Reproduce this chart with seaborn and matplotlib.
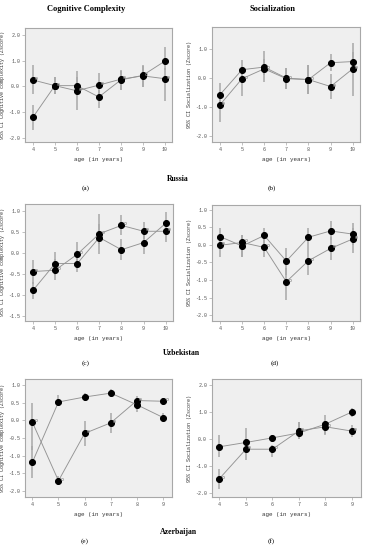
import matplotlib
matplotlib.use("Agg")
from matplotlib import pyplot as plt
from matplotlib.transforms import offset_copy
import seaborn as sns
import pandas as pd

# ages on the x axis
ages_long = [4, 5, 6, 7, 8, 9, 10]
ages_az = [4, 5, 6, 7, 8, 9]

# (a) Russia - cognitive complexity
cc_ru_a = [-1.20, 0.03, 0.03, -0.41, 0.25, 0.43, 0.98]
cc_ru_a_lo = [-1.68, -0.29, -0.25, -0.83, -0.12, -0.03, 0.65]
cc_ru_a_hi = [-0.73, 0.36, 0.35, -0.12, 0.65, 0.85, 1.52]
cc_ru_b = [0.25, 0.03, -0.17, 0.05, 0.28, 0.41, 0.30]
cc_ru_b_lo = [-0.29, -0.29, -0.90, -0.32, -0.12, -0.03, -0.58]
cc_ru_b_hi = [0.82, 0.36, 0.59, 0.52, 0.60, 0.80, 0.72]

# (b) Russia - socialization
so_ru_a = [-0.57, 0.29, 0.38, 0.00, -0.05, 0.53, 0.57]
so_ru_a_lo = [-0.83, -0.14, 0.12, -0.37, -0.54, 0.26, 0.26]
so_ru_a_hi = [-0.17, 0.63, 0.65, 0.36, 0.44, 0.84, 1.22]
so_ru_b = [-0.92, -0.02, 0.32, -0.02, -0.05, -0.29, 0.32]
so_ru_b_lo = [-1.52, -0.60, -0.12, -0.37, -0.54, -0.71, -0.60]
so_ru_b_hi = [-0.54, 0.26, 0.93, 0.36, 0.44, 0.15, 0.90]

# (c) Uzbekistan - cognitive complexity
cc_uz_a = [-0.89, -0.25, -0.25, 0.37, 0.08, 0.25, 0.71]
cc_uz_a_lo = [-1.09, -0.53, -0.45, -0.02, -0.17, -0.02, 0.62]
cc_uz_a_hi = [-0.69, 0.02, -0.10, 0.70, 0.34, 0.46, 0.98]
cc_uz_b = [-0.44, -0.41, -0.03, 0.46, 0.66, 0.52, 0.52]
cc_uz_b_lo = [-0.73, -0.65, -0.21, 0.22, 0.42, 0.34, 0.26]
cc_uz_b_hi = [-0.17, -0.13, 0.26, 0.94, 0.90, 0.74, 0.70]

# (d) Uzbekistan - socialization
so_uz_a = [0.24, -0.03, 0.27, -0.46, 0.22, 0.40, 0.31]
so_uz_a_lo = [0.10, -0.33, 0.00, -0.86, -0.05, 0.14, 0.00]
so_uz_a_hi = [0.48, 0.29, 0.48, -0.10, 0.48, 0.67, 0.62]
so_uz_b = [-0.01, 0.07, -0.07, -1.05, -0.45, -0.10, 0.17]
so_uz_b_lo = [-0.33, -0.33, -0.33, -1.57, -0.86, -0.43, -0.24]
so_uz_b_hi = [0.24, 0.29, 0.19, -0.67, -0.05, 0.24, 0.48]

# (e) Azerbaijan - cognitive complexity
cc_az_a = [-1.19, 0.52, 0.66, 0.77, 0.44, 0.08]
cc_az_a_lo = [-1.63, 0.40, 0.54, 0.66, 0.25, -0.03]
cc_az_a_hi = [-0.74, 0.73, 0.77, 0.89, 0.58, 0.21]
cc_az_b = [-0.05, -1.71, -0.37, -0.07, 0.56, 0.54]
cc_az_b_lo = [-0.83, -1.84, -0.74, -0.36, 0.44, 0.44]
cc_az_b_hi = [0.49, -1.58, -0.03, 0.21, 0.68, 0.63]

# (f) Azerbaijan - socialization
so_az_a = [-0.29, -0.13, 0.04, 0.22, 0.55, 1.00]
so_az_a_lo = [-0.66, -0.41, -0.10, 0.00, 0.20, 0.82]
so_az_a_hi = [0.14, 0.39, 0.14, 0.64, 0.88, 1.13]
so_az_b = [-1.47, -0.38, -0.38, 0.30, 0.45, 0.29]
so_az_b_lo = [-1.84, -0.79, -0.66, 0.00, 0.14, 0.08]
so_az_b_hi = [-1.10, -0.17, -0.23, 0.64, 0.64, 0.51]

cc_label = "95% CI Cognitive complexity (Zscore)"
so_label = "95% CI Socialization (Zscore)"

sns.set_theme(style="white")
plt.rcParams["font.family"] = ["Liberation Mono", "DejaVu Sans Mono"]
plt.rcParams["axes.unicode_minus"] = False

LINE = "#939393"
BAR = "#a8a8a8"
FRAME = "#a8a8a8"
TXT = "#555555"

W, H = 365, 550
fig = plt.figure(figsize=(3.65, 5.5), dpi=100)


def make_ax(left, top, right, bottom):
    return fig.add_axes([left / W, 1 - bottom / H, (right - left) / W, (bottom - top) / H])


def panel(ax, ages, a, a_lo, a_hi, b, b_lo, b_hi, ylabel, ylim, yticks, xlim):
    df = pd.DataFrame({
        "age": ages + ages,
        "z": a + b,
        "lo": a_lo + b_lo,
        "hi": a_hi + b_hi,
        "group": ["A"] * len(ages) + ["B"] * len(ages),
    })
    ax.vlines(df["age"], df["lo"], df["hi"], color=BAR, lw=1.1, zorder=2)
    sns.lineplot(data=df, x="age", y="z", hue="group", palette=[LINE, LINE],
                 marker="o", markersize=4.3, markerfacecolor="black",
                 markeredgecolor="black", lw=0.65, legend=False,
                 errorbar=None, sort=False, ax=ax, zorder=3)
    # small SPSS-style tags beside the second group's points
    tag = offset_copy(ax.transData, fig=fig, x=3.5, y=2.0, units="dots")
    ax.plot(df.loc[df.group == "B", "age"], df.loc[df.group == "B", "z"],
            ls="none", marker="o", ms=1.6, mfc="none", mec="#888888",
            mew=0.4, transform=tag, zorder=4)
    ax.set_facecolor("#efefef")
    for s in ax.spines.values():
        s.set_color(FRAME)
        s.set_linewidth(0.8)
    ax.set_xlim(*xlim)
    ax.set_ylim(*ylim)
    ax.set_xticks(ages)
    ax.set_yticks(yticks)
    ax.set_yticklabels([f"{v:.1f}" for v in yticks])
    ax.tick_params(axis="both", labelsize=3.6, colors=FRAME, labelcolor=TXT,
                   length=2, width=0.5, pad=1.5, left=True, bottom=True)
    ax.set_xlabel("age (in years)", fontsize=4.2, color="#333333", labelpad=4)
    ax.set_ylabel(ylabel, fontsize=3.6, color="#333333", labelpad=2)


ax_a = make_ax(25, 28, 172, 142)
panel(ax_a, ages_long, cc_ru_a, cc_ru_a_lo, cc_ru_a_hi, cc_ru_b, cc_ru_b_lo, cc_ru_b_hi,
      cc_label, (-2.16, 2.27), [-2.0, -1.0, 0.0, 1.0, 2.0], (3.64, 10.33))
ax_b = make_ax(212, 27, 360, 142)
panel(ax_b, ages_long, so_ru_a, so_ru_a_lo, so_ru_a_hi, so_ru_b, so_ru_b_lo, so_ru_b_hi,
      so_label, (-2.2, 1.76), [-2.0, -1.0, 0.0, 1.0], (3.64, 10.33))
ax_c = make_ax(25, 204, 173, 321)
panel(ax_c, ages_long, cc_uz_a, cc_uz_a_lo, cc_uz_a_hi, cc_uz_b, cc_uz_b_lo, cc_uz_b_hi,
      cc_label, (-1.62, 1.17), [-1.5, -1.0, -0.5, 0.0, 0.5, 1.0], (3.64, 10.33))
ax_d = make_ax(212, 205, 360, 321)
panel(ax_d, ages_long, so_uz_a, so_uz_a_lo, so_uz_a_hi, so_uz_b, so_uz_b_lo, so_uz_b_hi,
      so_label, (-2.17, 1.14), [-2.0, -1.5, -1.0, -0.5, 0.0, 0.5, 1.0], (3.64, 10.33))
ax_e = make_ax(25, 379, 172, 497)
panel(ax_e, ages_az, cc_az_a, cc_az_a_lo, cc_az_a_hi, cc_az_b, cc_az_b_lo, cc_az_b_hi,
      cc_label, (-2.17, 1.17), [-2.0, -1.5, -1.0, -0.5, 0.0, 0.5, 1.0], (3.72, 9.34))
ax_f = make_ax(212, 379, 361, 497)
panel(ax_f, ages_az, so_az_a, so_az_a_lo, so_az_a_hi, so_az_b, so_az_b_lo, so_az_b_hi,
      so_label, (-2.15, 2.22), [-2.0, -1.0, 0.0, 1.0, 2.0], (3.72, 9.34))

serif = ["Liberation Serif", "DejaVu Serif"]


def label(x, y, s, size, bold=False):
    fig.text(x / W, 1 - y / H, s, ha="center", va="center", fontsize=size,
             family=serif, fontweight="bold" if bold else "normal", color="black")


label(86, 9, "Cognitive Complexity", 6.0, True)
label(273, 9, "Socialization", 6.0, True)
label(178, 179, "Russia", 5.6, True)
label(181, 353, "Uzbekistan", 5.6, True)
label(178, 532, "Azerbaijan", 5.6, True)
label(86, 188, "(a)", 5.2)
label(272, 188, "(b)", 5.2)
label(86, 363, "(c)", 5.2)
label(275, 363, "(d)", 5.2)
label(85, 541, "(e)", 5.2)
label(271, 541, "(f)", 5.2)

fig.savefig("out.png", dpi=100, facecolor="white")
